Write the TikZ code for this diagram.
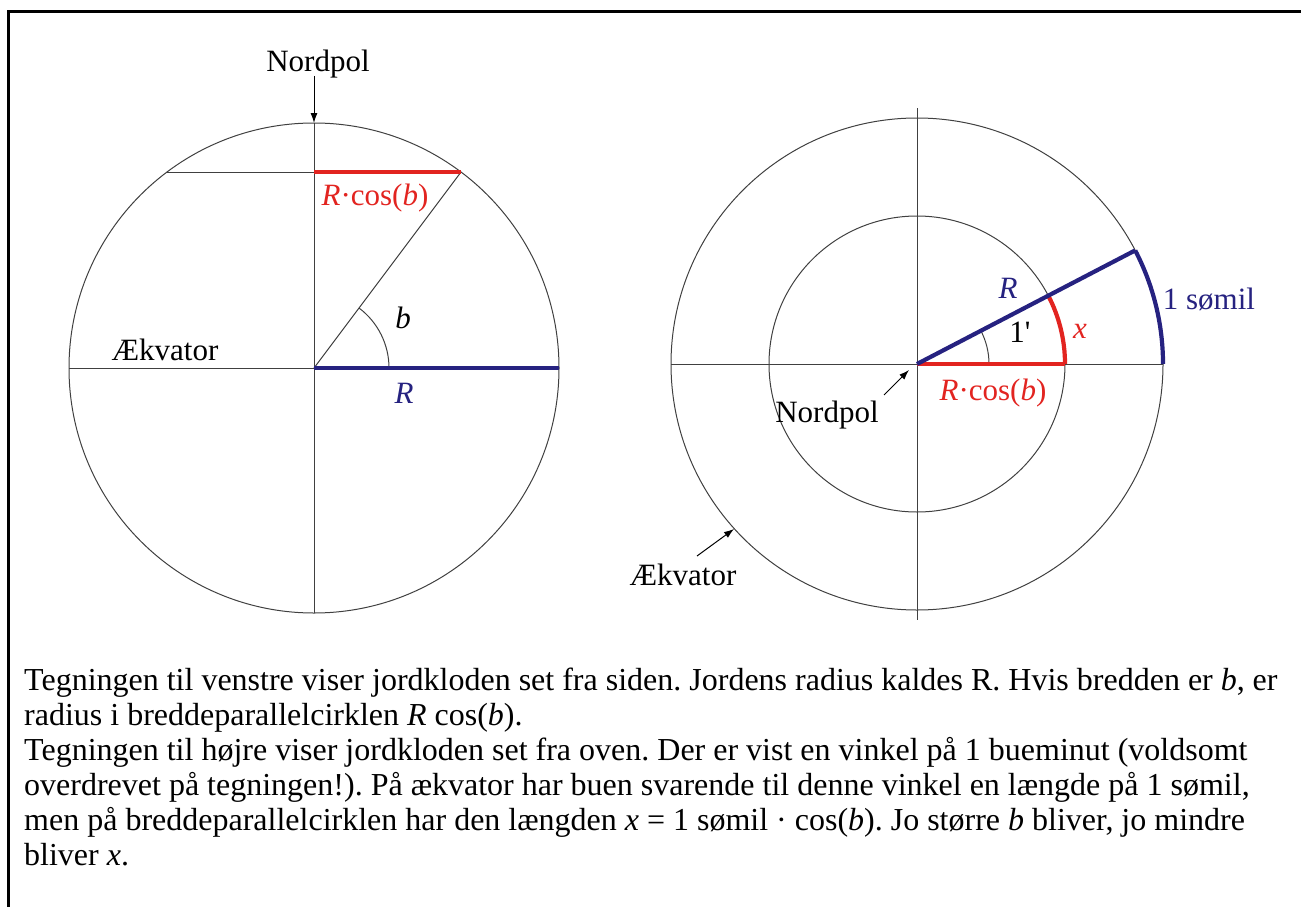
\documentclass[tikz,border=0pt]{standalone}
\usepackage{fontspec}
\setmainfont{Liberation Serif}
\usetikzlibrary{arrows.meta}
\definecolor{myred}{RGB}{226,36,32}
\definecolor{myblue}{RGB}{38,34,128}
\frenchspacing
\begin{document}
\begin{tikzpicture}[x=1pt,y=1pt,
  hair/.style={line width=1pt, black!75},
  frameline/.style={line width=3pt, black},
  heavyred/.style={line width=4.2pt, myred},
  heavyblue/.style={line width=4.2pt, myblue},
  lbl/.style={font=\fontsize{31}{36}\selectfont, inner sep=0pt, anchor=base},
  body/.style={font=\fontsize{32}{36}\selectfont, inner sep=0pt, anchor=base west},
  tip/.style={-{Latex[length=10pt,width=7pt]}, black}]
\useasboundingbox (0,0) rectangle (1301,-907);
% frame
\coordinate (F1) at (8,-907);
\coordinate (F2) at (8,-12);
\coordinate (F3) at (1301,-12);
\draw[frameline] (F1) -- (F2) -- (F3);
% ---------- left globe ----------
\coordinate (L) at (314,-368);
\coordinate (Ltop) at (314,-123);
\coordinate (Lbot) at (314,-613);
\coordinate (Lleft) at (69,-368);
\coordinate (Lright) at (559,-368);
\coordinate (P1) at (167,-172);
\coordinate (P2) at (314,-172);
\coordinate (P3) at (461,-172);
\coordinate (A1) at (389,-368);
\coordinate (NPs) at (314,-76);
\draw[hair] (L) circle[radius=245];
\draw[hair] (Ltop) -- (Lbot);
\draw[hair] (Lleft) -- (L);
\draw[hair] (P1) -- (P2);
\draw[hair] (L) -- (P3);
\draw[hair] (A1) arc[start angle=0,end angle=53.13,radius=75];
\draw[heavyred] (P2) -- (P3);
\draw[heavyblue] (L) -- (Lright);
\node[lbl] (np1) at (318,-71) {Nordpol};
\draw[hair,tip] (NPs) -- (Ltop);
\node[lbl,myred] (rc1) at (375,-205) {\textit{R}·cos(\textit{b})};
\node[lbl] (b1) at (403,-328) {\textit{b}};
\node[lbl,myblue] (R1) at (404,-403) {\textit{R}};
\node[lbl] (ek1) at (165,-360) {Ækvator};
% ---------- right globe ----------
\coordinate (C) at (917,-364);
\coordinate (Ctop) at (917,-108);
\coordinate (Cbot) at (917,-620);
\coordinate (Cleft) at (671,-364);
\coordinate (Cright) at (1163,-364);
\coordinate (Bend) at (1135.2,-250.4);
\coordinate (Rend) at (1065,-364);
\coordinate (A2) at (989,-364);
\draw[hair] (C) circle[radius=246];
\draw[hair] (C) circle[radius=148];
\draw[hair] (Ctop) -- (Cbot);
\draw[hair] (Cleft) -- (Cright);
\draw[hair] (A2) arc[start angle=0,end angle=27.5,radius=72];
\draw[heavyred] (C) -- (Rend);
\draw[heavyred] (Rend) arc[start angle=0,end angle=27.5,radius=148];
\draw[heavyblue] (C) -- (Bend);
\draw[heavyblue] (Cright) arc[start angle=0,end angle=27.5,radius=246];
\node[lbl,myblue] (R2) at (1008,-298) {\textit{R}};
\node[lbl] (one) at (1020,-342) {1\textquotesingle};
\node[lbl,myred] (x2) at (1080,-338) {\textit{x}};
\node[lbl,myblue] (sm) at (1209,-309) {1 sømil};
\node[lbl,myred] (rc2) at (993,-400) {\textit{R}·cos(\textit{b})};
\node[lbl] (np2) at (827,-422) {Nordpol};
\coordinate (NA1) at (884,-395);
\coordinate (NA2) at (909,-370);
\draw[hair,tip] (NA1) -- (NA2);
\node[lbl] (ek2) at (683,-585) {Ækvator};
\coordinate (EA1) at (697,-556);
\coordinate (EA2) at (734,-529);
\draw[hair,tip] (EA1) -- (EA2);
% ---------- text ----------
\node[body] (t1) at (24,-690) {Tegningen til venstre viser jordkloden set fra siden. Jordens radius kaldes R. Hvis bredden er \textit{b}, er};
\node[body] (t2) at (24,-725) {radius i breddeparallelcirklen \textit{R} cos(\textit{b}).};
\node[body] (t3) at (24,-760) {Tegningen til højre viser jordkloden set fra oven. Der er vist en vinkel på 1 bueminut (voldsomt};
\node[body] (t4) at (24,-795) {overdrevet på tegningen!). På ækvator har buen svarende til denne vinkel en længde på 1 sømil,};
\node[body] (t5) at (24,-830) {men på breddeparallelcirklen har den længden \textit{x} = 1 sømil · cos(\textit{b}). Jo større \textit{b} bliver, jo mindre};
\node[body] (t6) at (24,-865) {bliver \textit{x}.};
\end{tikzpicture}
\end{document}
